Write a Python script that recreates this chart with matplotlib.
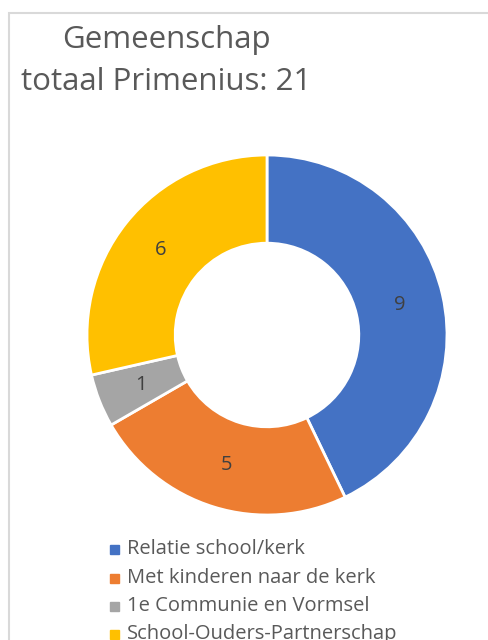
import numpy as np
import matplotlib.pyplot as plt
from matplotlib.patches import Rectangle

categories = ['Relatie school/kerk', 'Met kinderen naar de kerk',
              '1e Communie en Vormsel', 'School-Ouders-Partnerschap']
values = [9, 5, 1, 6]
colors = ['#4472c4', '#ed7d31', '#a5a5a5', '#ffc000']
title = 'Gemeenschap\ntotaal Primenius: 21'

plt.rcParams['font.family'] = ['Open Sans', 'DejaVu Sans']
textcol = '#595959'

W, H = 488, 640
fig = plt.figure(figsize=(W / 100, H / 100), dpi=100)

# chart border (cut off at right and bottom like the screenshot)
fig.patches.append(Rectangle((9 / W, -0.1), 1.2, 1 - 13 / H + 0.1, transform=fig.transFigure,
                             fill=False, edgecolor='#d9d9d9', linewidth=1.5))

# donut, centre (267, 335), outer radius 180px
cx, cy, r = 267, 335, 180
ax = fig.add_axes([(cx - r) / W, 1 - (cy + r) / H, 2 * r / W, 2 * r / H])
wedges, _ = ax.pie(values, colors=colors, startangle=90, counterclock=False,
                   radius=1, wedgeprops=dict(width=0.49, edgecolor='white', linewidth=2))
ax.set_xlim(-1, 1)
ax.set_ylim(-1, 1)
ax.set_aspect('equal')
ax.axis('off')

total = sum(values)
ang = 90
for v in values:
    mid = np.deg2rad(ang - v / total * 180)
    ax.text(0.755 * np.cos(mid), 0.755 * np.sin(mid), str(v), ha='center', va='center',
            fontsize=14.5, color='#404040')
    ang -= v / total * 360

fig.text(166 / W, 1 - 25 / H, title, ha='center', va='top', fontsize=22.5,
         color=textcol, linespacing=1.5)

# legend
ys = [549, 578, 606, 634]
for cat, col, y in zip(categories, colors, ys):
    fig.patches.append(Rectangle((110 / W, 1 - (y + 4.5) / H), 9 / W, 9 / H,
                                 transform=fig.transFigure, color=col))
    fig.text(127 / W, 1 - y / H, cat, ha='left', va='center', fontsize=14.5, color=textcol)

fig.savefig('out.png', dpi=100, facecolor='white')
